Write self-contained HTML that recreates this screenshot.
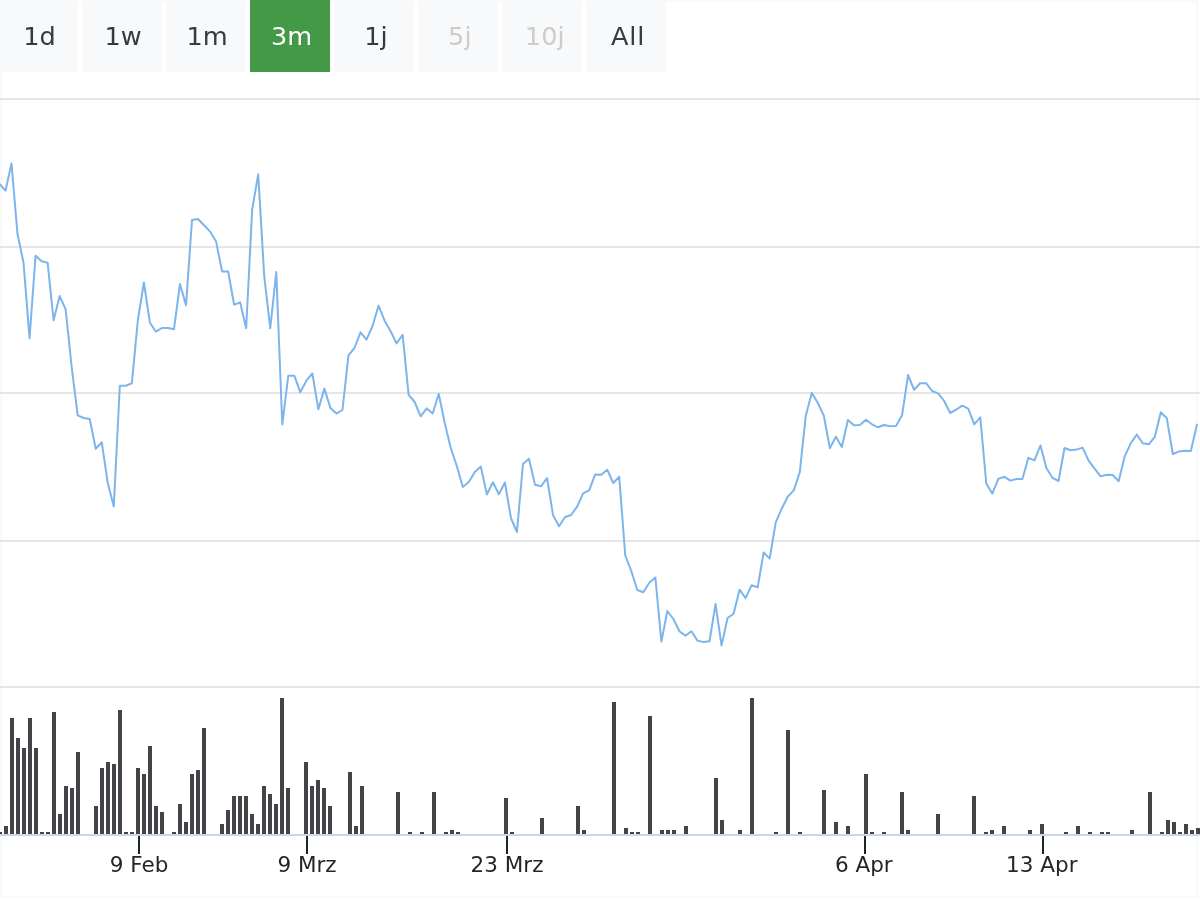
<!DOCTYPE html>
<html lang="de">
<head>
<meta charset="utf-8">
<title>Chart</title>
<style>
html,body{margin:0;padding:0;background:#fff;}
body{width:1200px;height:900px;overflow:hidden;position:relative;font-family:"DejaVu Sans","Liberation Sans",sans-serif;}
.frame{position:absolute;left:0;top:0;width:1194px;height:894px;border:2px solid #f8f9fa;background:#fff;}
.chart{position:absolute;left:0;top:0;}
.btn{position:absolute;top:0;height:72px;background:#f8f9fa;color:#333a42;font-size:25.6px;line-height:72px;text-align:center;box-sizing:border-box;white-space:nowrap;}
.btn.sel{background:#439946;color:#fff;}
.btn.dis{color:#cccccc;}
</style>
</head>
<body>
<div class="frame"></div>
<svg class="chart" width="1200" height="900" viewBox="0 0 1200 900">
<defs><clipPath id="plotclip"><rect x="0" y="72" width="1198" height="764"/></clipPath></defs>
<g class="grid" shape-rendering="crispEdges">
<rect x="0" y="98" width="1200" height="2" fill="#e6e6e6"/>
<rect x="0" y="246" width="1200" height="2" fill="#e6e6e6"/>
<rect x="0" y="392" width="1200" height="2" fill="#e6e6e6"/>
<rect x="0" y="540" width="1200" height="2" fill="#e6e6e6"/>
<rect x="0" y="686" width="1200" height="2" fill="#e6e6e6"/>
</g>
<g class="volume" fill="#434348" shape-rendering="crispEdges">
<rect x="-2" y="832" width="4" height="2"/>
<rect x="4" y="826" width="4" height="8"/>
<rect x="10" y="718" width="4" height="116"/>
<rect x="16" y="738" width="4" height="96"/>
<rect x="22" y="748" width="4" height="86"/>
<rect x="28" y="718" width="4" height="116"/>
<rect x="34" y="748" width="4" height="86"/>
<rect x="40" y="832" width="4" height="2"/>
<rect x="46" y="832" width="4" height="2"/>
<rect x="52" y="712" width="4" height="122"/>
<rect x="58" y="814" width="4" height="20"/>
<rect x="64" y="786" width="4" height="48"/>
<rect x="70" y="788" width="4" height="46"/>
<rect x="76" y="752" width="4" height="82"/>
<rect x="94" y="806" width="4" height="28"/>
<rect x="100" y="768" width="4" height="66"/>
<rect x="106" y="762" width="4" height="72"/>
<rect x="112" y="764" width="4" height="70"/>
<rect x="118" y="710" width="4" height="124"/>
<rect x="124" y="832" width="4" height="2"/>
<rect x="130" y="832" width="4" height="2"/>
<rect x="136" y="768" width="4" height="66"/>
<rect x="142" y="774" width="4" height="60"/>
<rect x="148" y="746" width="4" height="88"/>
<rect x="154" y="806" width="4" height="28"/>
<rect x="160" y="812" width="4" height="22"/>
<rect x="172" y="832" width="4" height="2"/>
<rect x="178" y="804" width="4" height="30"/>
<rect x="184" y="822" width="4" height="12"/>
<rect x="190" y="774" width="4" height="60"/>
<rect x="196" y="770" width="4" height="64"/>
<rect x="202" y="728" width="4" height="106"/>
<rect x="220" y="824" width="4" height="10"/>
<rect x="226" y="810" width="4" height="24"/>
<rect x="232" y="796" width="4" height="38"/>
<rect x="238" y="796" width="4" height="38"/>
<rect x="244" y="796" width="4" height="38"/>
<rect x="250" y="814" width="4" height="20"/>
<rect x="256" y="824" width="4" height="10"/>
<rect x="262" y="786" width="4" height="48"/>
<rect x="268" y="794" width="4" height="40"/>
<rect x="274" y="804" width="4" height="30"/>
<rect x="280" y="698" width="4" height="136"/>
<rect x="286" y="788" width="4" height="46"/>
<rect x="304" y="762" width="4" height="72"/>
<rect x="310" y="786" width="4" height="48"/>
<rect x="316" y="780" width="4" height="54"/>
<rect x="322" y="788" width="4" height="46"/>
<rect x="328" y="806" width="4" height="28"/>
<rect x="348" y="772" width="4" height="62"/>
<rect x="354" y="826" width="4" height="8"/>
<rect x="360" y="786" width="4" height="48"/>
<rect x="396" y="792" width="4" height="42"/>
<rect x="408" y="832" width="4" height="2"/>
<rect x="420" y="832" width="4" height="2"/>
<rect x="432" y="792" width="4" height="42"/>
<rect x="444" y="832" width="4" height="2"/>
<rect x="450" y="830" width="4" height="4"/>
<rect x="456" y="832" width="4" height="2"/>
<rect x="504" y="798" width="4" height="36"/>
<rect x="510" y="832" width="4" height="2"/>
<rect x="540" y="818" width="4" height="16"/>
<rect x="576" y="806" width="4" height="28"/>
<rect x="582" y="830" width="4" height="4"/>
<rect x="612" y="702" width="4" height="132"/>
<rect x="624" y="828" width="4" height="6"/>
<rect x="630" y="832" width="4" height="2"/>
<rect x="636" y="832" width="4" height="2"/>
<rect x="648" y="716" width="4" height="118"/>
<rect x="660" y="830" width="4" height="4"/>
<rect x="666" y="830" width="4" height="4"/>
<rect x="672" y="830" width="4" height="4"/>
<rect x="684" y="826" width="4" height="8"/>
<rect x="714" y="778" width="4" height="56"/>
<rect x="720" y="820" width="4" height="14"/>
<rect x="738" y="830" width="4" height="4"/>
<rect x="750" y="698" width="4" height="136"/>
<rect x="774" y="832" width="4" height="2"/>
<rect x="786" y="730" width="4" height="104"/>
<rect x="798" y="832" width="4" height="2"/>
<rect x="822" y="790" width="4" height="44"/>
<rect x="834" y="822" width="4" height="12"/>
<rect x="846" y="826" width="4" height="8"/>
<rect x="864" y="774" width="4" height="60"/>
<rect x="870" y="832" width="4" height="2"/>
<rect x="882" y="832" width="4" height="2"/>
<rect x="900" y="792" width="4" height="42"/>
<rect x="906" y="830" width="4" height="4"/>
<rect x="936" y="814" width="4" height="20"/>
<rect x="972" y="796" width="4" height="38"/>
<rect x="984" y="832" width="4" height="2"/>
<rect x="990" y="830" width="4" height="4"/>
<rect x="1002" y="826" width="4" height="8"/>
<rect x="1028" y="830" width="4" height="4"/>
<rect x="1040" y="824" width="4" height="10"/>
<rect x="1064" y="832" width="4" height="2"/>
<rect x="1076" y="826" width="4" height="8"/>
<rect x="1088" y="832" width="4" height="2"/>
<rect x="1100" y="832" width="4" height="2"/>
<rect x="1106" y="832" width="4" height="2"/>
<rect x="1130" y="830" width="4" height="4"/>
<rect x="1148" y="792" width="4" height="42"/>
<rect x="1160" y="832" width="4" height="2"/>
<rect x="1166" y="820" width="4" height="14"/>
<rect x="1172" y="822" width="4" height="12"/>
<rect x="1178" y="832" width="4" height="2"/>
<rect x="1184" y="824" width="4" height="10"/>
<rect x="1190" y="830" width="4" height="4"/>
<rect x="1196" y="828" width="4" height="6"/>
</g>
<rect class="axis" x="0" y="834" width="1200" height="2" fill="#ccd6eb" shape-rendering="crispEdges"/>
<g class="ticks" fill="#1f2226" shape-rendering="crispEdges">
<rect x="138" y="836" width="2" height="18"/>
<rect x="306" y="836" width="2" height="18"/>
<rect x="506" y="836" width="2" height="18"/>
<rect x="864" y="836" width="2" height="18"/>
<rect x="1042" y="836" width="2" height="18"/>
</g>
<polyline class="price" clip-path="url(#plotclip)" fill="none" stroke="#7cb5ec" stroke-width="2" stroke-linejoin="round" stroke-linecap="round" points="-0.54,184.00 5.48,190.70 11.50,163.50 17.51,234.00 23.53,262.70 29.55,338.30 35.57,255.70 41.58,261.30 47.60,262.70 53.62,320.30 59.64,296.00 65.65,309.30 71.67,367.00 77.69,415.30 83.70,418.00 89.72,419.00 95.74,448.80 101.76,442.30 107.77,483.00 113.79,506.50 119.81,385.70 125.83,385.70 131.84,383.30 137.86,320.00 143.88,282.50 149.90,322.70 155.91,331.70 161.93,328.00 167.95,328.00 173.96,329.30 179.98,284.00 186.00,305.30 192.02,220.00 198.03,219.00 204.05,225.30 210.07,231.60 216.09,241.60 222.10,271.50 228.12,271.50 234.14,304.70 240.15,302.40 246.17,328.30 252.19,209.30 258.21,174.30 264.22,276.00 270.24,328.30 276.26,272.00 282.28,424.50 288.29,375.70 294.31,375.70 300.33,392.30 306.35,380.70 312.36,373.50 318.38,409.30 324.40,388.60 330.41,408.00 336.43,413.60 342.45,410.00 348.47,355.30 354.48,348.00 360.50,332.30 366.52,339.70 372.54,326.00 378.55,305.70 384.57,320.70 390.59,331.30 396.60,343.40 402.62,334.70 408.64,394.80 414.66,402.00 420.67,416.30 426.69,408.40 432.71,413.50 438.73,394.00 444.74,423.00 450.76,448.00 456.78,466.00 462.79,487.00 468.81,482.00 474.83,472.00 480.85,466.50 486.86,494.50 492.88,482.30 498.90,494.30 504.92,482.50 510.93,518.00 516.95,532.00 522.97,464.00 528.99,458.80 535.00,484.70 541.02,486.30 547.04,478.00 553.05,515.30 559.07,526.30 565.09,517.00 571.11,515.00 577.12,506.70 583.14,493.30 589.16,490.40 595.18,474.40 601.19,474.70 607.21,469.70 613.23,483.00 619.24,476.70 625.26,555.50 631.28,571.00 637.30,590.00 643.31,592.30 649.33,582.70 655.35,577.50 661.37,641.60 667.38,611.00 673.40,619.00 679.42,631.30 685.43,635.80 691.45,631.30 697.47,640.60 703.49,642.00 709.50,641.30 715.52,603.90 721.54,645.60 727.56,618.00 733.57,613.70 739.59,589.70 745.61,598.20 751.63,585.20 757.64,587.40 763.66,552.50 769.68,558.60 775.69,522.70 781.71,508.70 787.73,496.70 793.75,490.40 799.76,472.30 805.78,415.70 811.80,392.70 817.82,403.00 823.83,415.70 829.85,448.30 835.87,436.70 841.88,447.00 847.90,420.00 853.92,425.30 859.94,425.00 865.95,419.70 871.97,424.30 877.99,427.30 884.01,425.00 890.02,426.30 896.04,426.00 902.06,415.30 908.07,375.00 914.09,389.80 920.11,383.30 926.13,383.20 932.14,391.00 938.16,393.40 944.18,401.00 950.20,413.00 956.21,409.70 962.23,405.70 968.25,408.70 974.27,424.30 980.28,417.30 986.30,483.50 992.32,493.70 998.33,478.90 1004.35,476.80 1010.37,480.60 1016.39,479.00 1022.40,479.00 1028.42,457.80 1034.44,460.40 1040.46,445.50 1046.47,468.20 1052.49,477.80 1058.51,481.00 1064.52,448.00 1070.54,450.30 1076.56,449.60 1082.58,447.60 1088.59,460.70 1094.61,468.70 1100.63,476.40 1106.65,474.70 1112.66,475.00 1118.68,481.30 1124.70,456.30 1130.72,443.30 1136.73,434.60 1142.75,443.30 1148.77,444.30 1154.78,437.00 1160.80,412.20 1166.82,418.30 1172.84,454.00 1178.85,451.60 1184.87,450.80 1190.89,451.00 1196.91,424.60"/>
<g class="xlabels" font-family="'DejaVu Sans', 'Liberation Sans', sans-serif" font-size="21.5" fill="#22262b" text-anchor="middle">
<text x="139.0" y="872">9 Feb</text>
<text x="307.0" y="872">9 Mrz</text>
<text x="507.0" y="872">23 Mrz</text>
<text x="863.8" y="872">6 Apr</text>
<text x="1041.8" y="872">13 Apr</text>
</g>
</svg>
<div class="rangeselector">
<div class="btn " style="left:0px;width:78px;padding-left:1.2px">1d</div>
<div class="btn " style="left:82px;width:80px;padding-left:2.4px">1w</div>
<div class="btn " style="left:166px;width:80px;padding-left:2.0px">1m</div>
<div class="btn sel" style="left:250px;width:80px;padding-left:3.0px">3m</div>
<div class="btn " style="left:334px;width:80px;padding-left:4.0px">1j</div>
<div class="btn dis" style="left:418px;width:80px;padding-left:3.6px">5j</div>
<div class="btn dis" style="left:502px;width:80px;padding-left:5.4px">10j</div>
<div class="btn " style="left:586px;width:80px;padding-left:4.0px;letter-spacing:0.8px">All</div>
</div>
</body>
</html>
